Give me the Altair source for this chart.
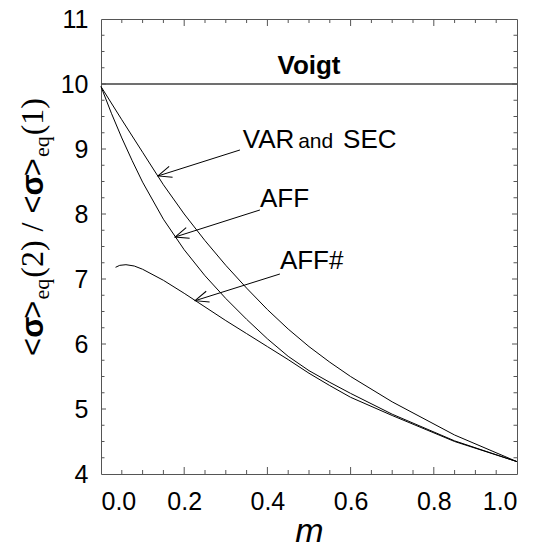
import math
import altair as alt
import pandas as pd

W, H = 416, 455
XMIN, XMAX, YMIN, YMAX = 0.0, 1.0, 4.0, 11.0
FRAME = "#555555"

# ---- data ----
m_var = [0.00, 0.05, 0.10, 0.15, 0.20, 0.25, 0.30, 0.35, 0.40, 0.45, 0.50, 0.55, 0.60, 0.70, 0.85, 1.00]
y_var = [9.96, 9.45, 8.95, 8.45, 8.00, 7.59, 7.21, 6.86, 6.53, 6.23, 5.96, 5.72, 5.50, 5.11, 4.60, 4.19]

m_aff = [0.00, 0.025, 0.05, 0.075, 0.10, 0.15, 0.20, 0.25, 0.30, 0.35, 0.40, 0.45, 0.50, 0.55, 0.60, 0.70, 0.85, 1.00]
y_aff = [9.96, 9.55, 9.17, 8.82, 8.49, 7.92, 7.45, 7.05, 6.70, 6.38, 6.08, 5.81, 5.59, 5.41, 5.24, 4.92, 4.51, 4.19]

m_affs = [0.035, 0.045, 0.06, 0.08, 0.10, 0.15, 0.20, 0.25, 0.30, 0.35, 0.40, 0.45, 0.50, 0.55, 0.60, 0.70, 0.85, 1.00]
y_affs = [7.18, 7.21, 7.22, 7.20, 7.15, 6.98, 6.78, 6.57, 6.36, 6.16, 5.96, 5.76, 5.55, 5.36, 5.18, 4.90, 4.50, 4.19]

voigt_value = 10.0

x_tick_labels = [0.0, 0.2, 0.4, 0.6, 0.8, 1.0]
y_tick_labels = [4, 5, 6, 7, 8, 9, 10, 11]
x_major_ticks = [0.2, 0.4, 0.6, 0.8]
x_minor_ticks = [0.05, 0.10, 0.15, 0.25, 0.30, 0.35, 0.45, 0.50, 0.55, 0.65, 0.70, 0.75, 0.85, 0.90, 0.95]
y_major_ticks = [5, 6, 7, 8, 9, 10]
y_minor_ticks = [4.25, 4.5, 4.75, 5.25, 5.5, 5.75, 6.25, 6.5, 6.75, 7.25, 7.5, 7.75,
                 8.25, 8.5, 8.75, 9.25, 9.5, 9.75, 10.25, 10.5, 10.75]

# annotation texts (data coordinates)
lab_text = ["VAR", "and", "SEC", "AFF", "AFF#"]
lab_x = [0.341, 0.474, 0.582, 0.382, 0.430]
lab_y = [9.015, 9.015, 9.015, 8.108, 7.154]
lab_size = [26, 21, 26, 26, 26]

voigt_text_x = [0.5]
voigt_text_y = [10.154]

arrow_xt = [0.334, 0.382, 0.430]
arrow_yt = [8.985, 8.062, 7.077]
arrow_xh = [0.137, 0.178, 0.226]
arrow_yh = [8.585, 7.646, 6.666]

# ---- tables ----
curves = pd.DataFrame({
    "m": m_var + m_aff + m_affs,
    "r": y_var + y_aff + y_affs,
    "s": ["VAR"] * len(m_var) + ["AFF"] * len(m_aff) + ["AFF#"] * len(m_affs),
})

xs = alt.Scale(domain=[XMIN, XMAX], nice=False, zero=False)
ys = alt.Scale(domain=[YMIN, YMAX], nice=False, zero=False)

lines = alt.Chart(curves).mark_line(color="black", strokeWidth=1).encode(
    x=alt.X("m:Q", scale=xs, title="m",
            axis=alt.Axis(values=x_tick_labels, format=".1f", labelPadding=15,
                          titlePadding=0)),
    y=alt.Y("r:Q", scale=ys, title=None,
            axis=alt.Axis(values=y_tick_labels, format="d", labelPadding=13)),
    detail="s:N",
)

voigt = alt.Chart(pd.DataFrame({"v": [voigt_value]})).mark_rule(
    color="#404040", strokeWidth=1.6).encode(y=alt.Y("v:Q", scale=ys))

voigt_lbl = alt.Chart(pd.DataFrame({"x": voigt_text_x, "y": voigt_text_y, "t": ["Voigt"]})).mark_text(
    font="Liberation Sans", fontWeight="bold", fontSize=26, color="black",
    align="center", baseline="alphabetic").encode(
    x=alt.X("x:Q", scale=xs), y=alt.Y("y:Q", scale=ys), text="t:N")

labels = alt.Chart(pd.DataFrame({"x": lab_x, "y": lab_y, "t": lab_text, "sz": lab_size})).mark_text(
    font="Liberation Sans", color="black", align="left", baseline="alphabetic").encode(
    x=alt.X("x:Q", scale=xs), y=alt.Y("y:Q", scale=ys), text="t:N",
    size=alt.Size("sz:Q", scale=None))

ky = H / (YMAX - YMIN)
kx = W / (XMAX - XMIN)
angles = [math.degrees(math.atan2(-(yh - yt) * ky, (xh - xt) * kx)) % 360
          for xt, yt, xh, yh in zip(arrow_xt, arrow_yt, arrow_xh, arrow_yh)]
arrows_df = pd.DataFrame({"xt": arrow_xt, "yt": arrow_yt, "xh": arrow_xh, "yh": arrow_yh, "ang": angles})

shafts = alt.Chart(arrows_df).mark_rule(color="black", strokeWidth=1).encode(
    x=alt.X("xt:Q", scale=xs), y=alt.Y("yt:Q", scale=ys), x2="xh:Q", y2="yh:Q")

heads = alt.Chart(arrows_df).mark_point(
    shape="M-1,-0.42L0,0L-1,0.42", filled=False, color="black", strokeWidth=1,
    size=729, opacity=1).encode(
    x=alt.X("xh:Q", scale=xs), y=alt.Y("yh:Q", scale=ys),
    angle=alt.Angle("ang:Q", scale=None))


def xticks(vals, length):
    df = pd.DataFrame({"t": vals})
    bottom = alt.Chart(df).mark_rule(color=FRAME, strokeWidth=1).encode(
        x=alt.X("t:Q", scale=xs), y=alt.value(H), y2=alt.value(H - length))
    top = alt.Chart(df).mark_rule(color=FRAME, strokeWidth=1).encode(
        x=alt.X("t:Q", scale=xs), y=alt.value(0), y2=alt.value(length))
    return [bottom, top]


def yticks(vals, length):
    df = pd.DataFrame({"t": vals})
    left = alt.Chart(df).mark_rule(color=FRAME, strokeWidth=1).encode(
        y=alt.Y("t:Q", scale=ys), x=alt.value(0), x2=alt.value(length))
    right = alt.Chart(df).mark_rule(color=FRAME, strokeWidth=1).encode(
        y=alt.Y("t:Q", scale=ys), x=alt.value(W), x2=alt.value(W - length))
    return [left, right]


tick_layers = (xticks(x_major_ticks, 7) + xticks(x_minor_ticks, 4)
               + yticks(y_major_ticks, 5) + yticks(y_minor_ticks, 3.5))

# ---- y-axis title built from pieces (with subscripts), read bottom to top ----
SANS, SERIF = "Liberation Sans", "Liberation Serif"
yt_text = ["<", "σ", ">", "eq", "(2)", "/", "<", "σ", ">", "eq", "(1)"]
yt_font = [SANS, SANS, SANS, SERIF, SERIF, SERIF, SANS, SANS, SANS, SERIF, SERIF]
yt_weight = ["normal", "bold", "normal", "normal", "normal", "normal",
             "normal", "bold", "normal", "normal", "normal"]
yt_size = [31, 31, 31, 22, 32, 32, 31, 31, 31, 22, 32]
yt_em = [0.584, 0.62, 0.584, 0.944, 1.166, 0.278, 0.584, 0.62, 0.584, 0.944, 1.166]
yt_gap_before = [0, 0, 0, 1, 1, 9, 9, 0, 0, 1, 1]
yt_sub = [False, False, False, True, False, False, False, False, False, True, False]

widths = [e * s for e, s in zip(yt_em, yt_size)]
total = sum(widths) + sum(yt_gap_before)
center_y = 227 - 19
start = center_y + total / 2
title_layers = []
pos = start
for t, f, wgt, s, w, g, sub in zip(yt_text, yt_font, yt_weight, yt_size, widths,
                                   yt_gap_before, yt_sub):
    pos -= g
    title_layers.append(
        alt.Chart(pd.DataFrame({"t": [t]})).mark_text(
            font=f, fontSize=s, fontWeight=wgt, angle=270, align="left",
            baseline="alphabetic", color="black").encode(
            x=alt.value(-52 if sub else -58), y=alt.value(pos), text="t:N"))
    pos -= w

chart = alt.layer(
    lines, voigt, voigt_lbl, labels, shafts, heads, *tick_layers, *title_layers
).properties(
    width=W, height=H,
    padding={"left": 93, "top": 11, "right": 13, "bottom": 74},
    autosize=alt.AutoSizeParams(type="none"),
    background="white",
).configure_view(
    stroke=FRAME, strokeWidth=1,
).configure_axis(
    labelFont="Liberation Sans", labelFontSize=25, labelColor="black",
    domain=False, ticks=False, tickSize=0, grid=False,
    titleFont="Liberation Sans", titleFontSize=34, titleFontStyle="italic",
    titleFontWeight="normal", titleColor="black",
)

chart.save("out.html", embed_options={"renderer": "svg", "actions": False})
